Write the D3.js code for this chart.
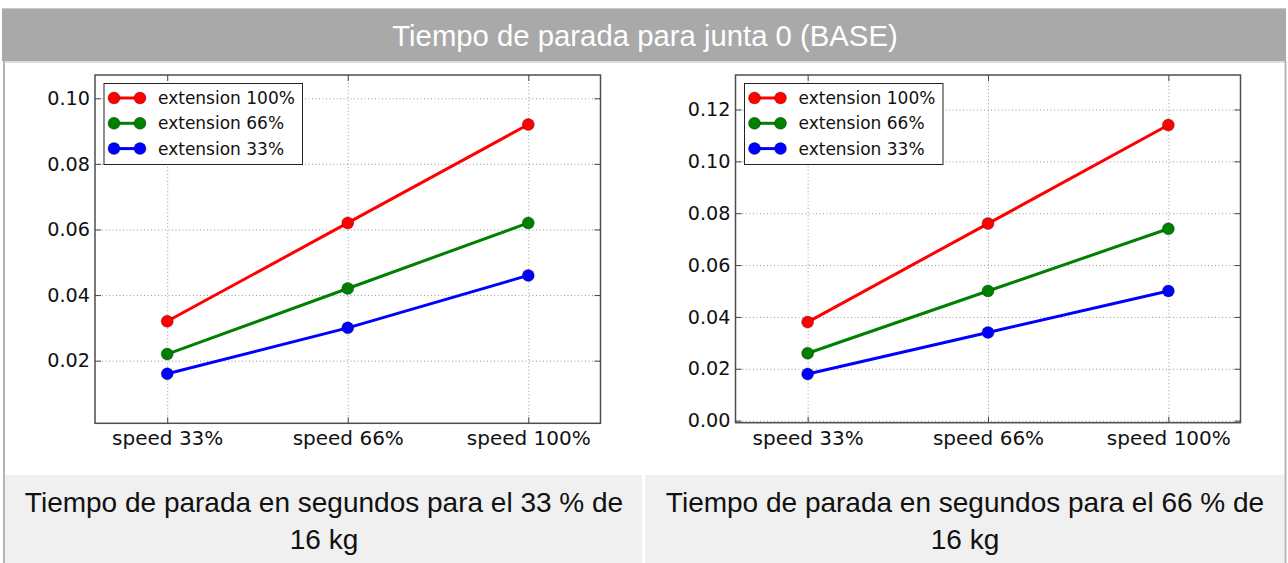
<!DOCTYPE html>
<html>
<head>
<meta charset="utf-8">
<script src="https://cdn.jsdelivr.net/npm/d3@7"></script>
<style>
  html, body { margin: 0; padding: 0; background: #ffffff; }
  svg { display: block; }
</style>
</head>
<body>
<svg id="page" width="1288" height="563"></svg>
<script>
// Categories along the x axis
const categories = ["speed 33%", "speed 66%", "speed 100%"];
// Series legend names and colours
const seriesNames = ["extension 100%", "extension 66%", "extension 33%"];
const seriesColors = ["#ff0000", "#008000", "#0000ff"];

// Stop times (s), 33 % of 16 kg
const load33Ext100 = [0.032, 0.062, 0.092];
const load33Ext66  = [0.022, 0.042, 0.062];
const load33Ext33  = [0.016, 0.030, 0.046];

// Stop times (s), 66 % of 16 kg
const load66Ext100 = [0.038, 0.076, 0.114];
const load66Ext66  = [0.026, 0.050, 0.074];
const load66Ext33  = [0.018, 0.034, 0.050];

// Y tick labels for each panel
const load33Ticks = [0.02, 0.04, 0.06, 0.08, 0.10];
const load66Ticks = [0.00, 0.02, 0.04, 0.06, 0.08, 0.10, 0.12];

// Texts
const titleText = "Tiempo de parada para junta 0 (BASE)";
const captionLeft = ["Tiempo de parada en segundos para el 33 % de", "16 kg"];
const captionRight = ["Tiempo de parada en segundos para el 66 % de", "16 kg"];

const svg = d3.select("#page");

// ---- table frame ----
svg.append("rect").attr("x", 2).attr("y", 8).attr("width", 1284).attr("height", 53)
  .attr("fill", "#a9a9a9");
svg.append("line").attr("x1", 2).attr("x2", 1286).attr("y1", 8.5).attr("y2", 8.5)
  .attr("stroke", "#c8c8c8");
svg.append("text").attr("x", 645).attr("y", 46)
  .attr("text-anchor", "middle")
  .style("font-family", "'Liberation Sans', Arial, sans-serif")
  .style("font-size", "29.3px").attr("fill", "#ffffff").text(titleText);

svg.append("line").attr("x1", 4).attr("x2", 1285).attr("y1", 62).attr("y2", 62)
  .attr("stroke", "#dcdcdc").attr("stroke-width", 2);

// caption cells
svg.append("rect").attr("x", 5).attr("y", 475).attr("width", 637).attr("height", 88).attr("fill", "#eff0ef");
svg.append("rect").attr("x", 645).attr("y", 475).attr("width", 639).attr("height", 88).attr("fill", "#eff0ef");

// outer cell borders
svg.append("line").attr("x1", 4).attr("x2", 4).attr("y1", 61).attr("y2", 563)
  .attr("stroke", "#b4b4b4").attr("stroke-width", 2);
svg.append("line").attr("x1", 1285.5).attr("x2", 1285.5).attr("y1", 61).attr("y2", 563)
  .attr("stroke", "#b4b4b4").attr("stroke-width", 2);

function caption(lines, cx) {
  lines.forEach((t, i) => {
    svg.append("text").attr("x", cx).attr("y", 512 + i * 37)
      .attr("text-anchor", "middle")
      .style("font-family", "'Liberation Sans', Arial, sans-serif")
      .style("font-size", "28px").attr("fill", "#111").text(t);
  });
}
caption(captionLeft, 324);
caption(captionRight, 965);

// ---- line chart panel ----
function panel(opts) {
  const { left, top, width, height, yDomain, ticks, series } = opts;
  const g = svg.append("g").attr("transform", `translate(${left},${top})`);

  const x = d3.scaleLinear().domain([-0.4, 2.4]).range([0, width]);
  const y = d3.scaleLinear().domain(yDomain).range([height, 0]);
  const idx = categories.map((_, i) => i);
  const fmt = d3.format(".2f");
  const font = "'DejaVu Sans', sans-serif";

  // grid
  g.append("g").call(d3.axisLeft(y).tickValues(ticks).tickSize(-width).tickFormat(""))
    .call(a => a.select(".domain").remove())
    .call(a => a.selectAll("line").attr("stroke", "#9a9a9a").attr("stroke-dasharray", "1,2.5"));
  g.append("g").attr("transform", `translate(0,${height})`)
    .call(d3.axisBottom(x).tickValues(idx).tickSize(-height).tickFormat(""))
    .call(a => a.select(".domain").remove())
    .call(a => a.selectAll("line").attr("stroke", "#9a9a9a").attr("stroke-dasharray", "1,2.5"));

  // axes with inward ticks
  const tickStyle = a => {
    a.select(".domain").remove();
    a.selectAll("line").attr("stroke", "#444").attr("stroke-width", 1);
    a.selectAll("text").style("font-family", font).attr("fill", "#111");
  };
  g.append("g").call(d3.axisLeft(y).tickValues(ticks).tickSize(-6).tickPadding(5).tickFormat(fmt))
    .call(tickStyle).call(a => a.selectAll("text").style("font-size", "19.2px"));
  g.append("g").attr("transform", `translate(${width},0)`)
    .call(d3.axisRight(y).tickValues(ticks).tickSize(-6).tickFormat(""))
    .call(tickStyle);
  g.append("g").attr("transform", `translate(0,${height})`)
    .call(d3.axisBottom(x).tickValues(idx).tickSize(-6).tickPadding(8).tickFormat(i => categories[i]))
    .call(tickStyle).call(a => a.selectAll("text").style("font-size", "20px").attr("dy", "0.71em"));
  g.append("g")
    .call(d3.axisTop(x).tickValues(idx).tickSize(-6).tickFormat(""))
    .call(tickStyle);

  // frame
  g.append("rect").attr("width", width).attr("height", height)
    .attr("fill", "none").attr("stroke", "#4d4d4d").attr("stroke-width", 1.5);

  // lines and markers
  const line = d3.line().x((d, i) => x(i)).y(d => y(d));
  series.forEach((vals, s) => {
    g.append("path").datum(vals).attr("d", line)
      .attr("fill", "none").attr("stroke", seriesColors[s]).attr("stroke-width", 3);
  });
  series.forEach((vals, s) => {
    g.selectAll(null).data(vals).enter().append("circle")
      .attr("cx", (d, i) => x(i)).attr("cy", d => y(d)).attr("r", 6)
      .attr("fill", seriesColors[s]).attr("stroke", "#000").attr("stroke-width", 0.5)
      .attr("stroke-opacity", 0.6);
  });

  // legend
  const lg = g.append("g").attr("transform", "translate(9,8.5)");
  lg.append("rect").attr("width", 198.5).attr("height", 81)
    .attr("fill", "#fff").attr("stroke", "#222").attr("stroke-width", 1);
  seriesNames.forEach((name, s) => {
    const ry = 14.5 + s * 25.3;
    lg.append("line").attr("x1", 10).attr("x2", 36).attr("y1", ry).attr("y2", ry)
      .attr("stroke", seriesColors[s]).attr("stroke-width", 3);
    [10, 36].forEach(cx => lg.append("circle").attr("cx", cx).attr("cy", ry).attr("r", 6)
      .attr("fill", seriesColors[s]).attr("stroke", "#000").attr("stroke-width", 0.5).attr("stroke-opacity", 0.6));
    lg.append("text").attr("x", 54).attr("y", ry).attr("dy", "0.35em")
      .style("font-family", font).style("font-size", "17px").attr("fill", "#111").text(name);
  });
}

panel({
  left: 95, top: 75, width: 505.5, height: 348.3,
  yDomain: [0.0009, 0.1071], ticks: load33Ticks,
  series: [load33Ext100, load33Ext66, load33Ext33]
});
panel({
  left: 735.5, top: 75, width: 505, height: 347.7,
  yDomain: [-0.0008, 0.1333], ticks: load66Ticks,
  series: [load66Ext100, load66Ext66, load66Ext33]
});
</script>
</body>
</html>
